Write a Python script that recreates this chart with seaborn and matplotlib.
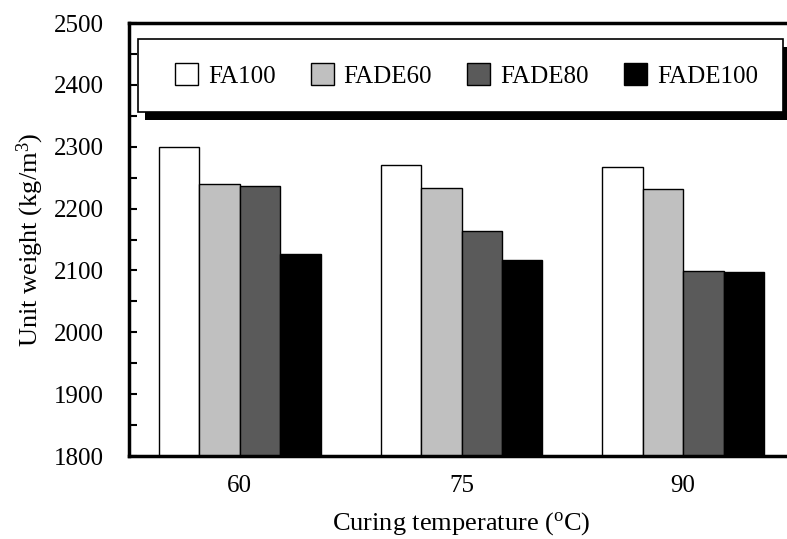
import matplotlib
matplotlib.use("Agg")
import matplotlib.pyplot as plt
import seaborn as sns
import pandas as pd
from matplotlib.patches import Rectangle
from matplotlib.transforms import ScaledTranslation

temperatures = ["60", "75", "90"]
mixes = ["FA100", "FADE60", "FADE80", "FADE100"]
fa100 = [2300, 2271, 2267]
fade60 = [2240, 2234, 2232]
fade80 = [2237, 2163, 2099]
fade100 = [2127, 2117, 2097]
colors = ["#ffffff", "#c0c0c0", "#5a5a5a", "#000000"]

rows = []
for mix, vals in zip(mixes, [fa100, fade60, fade80, fade100]):
    for t, v in zip(temperatures, vals):
        rows.append({"temp": t, "mix": mix, "value": v})
df = pd.DataFrame(rows)

sns.set_style("ticks")
plt.rcParams["font.family"] = ["Liberation Serif", "DejaVu Serif"]
plt.rcParams["mathtext.fontset"] = "custom"
plt.rcParams["mathtext.rm"] = "Liberation Serif"
plt.rcParams["mathtext.it"] = "Liberation Serif:italic"
for k in ["text.color", "axes.labelcolor", "xtick.color", "ytick.color", "axes.edgecolor"]:
    plt.rcParams[k] = "black"

fig = plt.figure(figsize=(7.87, 5.39), dpi=100)
ax = fig.add_axes([129/787, 83/539, 665/787, 433/539])

sns.barplot(data=df, x="temp", y="value", hue="mix", order=temperatures,
            hue_order=mixes, palette=colors, edgecolor="black", linewidth=1.0,
            width=0.73, gap=0, ax=ax, zorder=2)

ax.set_ylim(1800, 2500)
ax.set_xlim(-0.5, 2.5)
ax.set_yticks(range(1800, 2501, 100))
ax.set_yticks(range(1850, 2500, 100), minor=True)
ax.tick_params(axis="y", which="both", direction="in", length=6, width=1.5,
               labelsize=18, pad=18)
ax.tick_params(axis="x", length=0, labelsize=18, pad=14)
for s in ["left", "bottom", "top"]:
    ax.spines[s].set_linewidth(2.5)
ax.spines["right"].set_visible(False)

ax.set_ylabel(r"Unit weight (kg/m$^{3}$)", fontsize=19, labelpad=6)
ax.set_xlabel(r"Curing temperature ($^{\mathrm{o}}$C)", fontsize=19, labelpad=9)

# legend frame and shadow (axes fractions)
fx0, fx1 = 0.0135, 0.9835
fy0, fy1 = 0.7945, 0.963
shadow_tr = ax.transAxes + ScaledTranslation(7/100, -8/100, fig.dpi_scale_trans)
ax.add_patch(Rectangle((fx0, fy0), fx1 - fx0, fy1 - fy0, transform=shadow_tr,
                       facecolor="black", edgecolor="none", zorder=17, clip_on=False))
ax.add_patch(Rectangle((fx0, fy0), fx1 - fx0, fy1 - fy0, transform=ax.transAxes,
                       facecolor="white", edgecolor="black", linewidth=1.2,
                       zorder=18, clip_on=False))

leg = ax.legend(ncol=4, loc="center", bbox_to_anchor=(0.0331, fy0, 0.9489, fy1 - fy0),
                mode="expand", fontsize=18, frameon=False, borderpad=0.95,
                handlelength=0.92, handleheight=0.92, handletextpad=0.4,
                columnspacing=1.5, borderaxespad=0)
leg.set_zorder(20)

fig.savefig("out.png", dpi=100)
